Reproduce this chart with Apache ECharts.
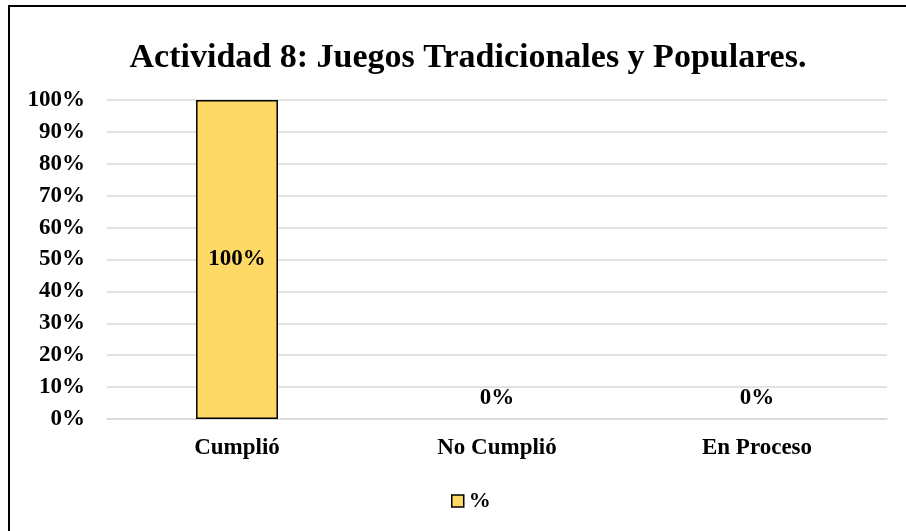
<!DOCTYPE html>
<html>
<head>
<meta charset="utf-8">
<script src="https://cdn.jsdelivr.net/npm/echarts@6/dist/echarts.min.js"></script>
<style>
    html, body { margin: 0; padding: 0; background: #fff; }
    #chartmain { width: 906px; height: 531px; }
</style>
</head>
<body>
<div id="chartmain"></div>
<script>
var categories = ['Cumplió', 'No Cumplió', 'En Proceso'];
var percentValues = [100, 0, 0];
var yTicks = [0, 10, 20, 30, 40, 50, 60, 70, 80, 90, 100];

var fontFam = '"Liberation Serif", "Times New Roman", serif';

var barData = [];
for (var i = 0; i < percentValues.length; i++) {
    var item = { value: percentValues[i] };
    if (percentValues[i] > 0) {
        item.label = { position: 'inside' };
    } else {
        // Excel puts the zero labels a bit above the axis, no outline drawn
        item.label = { position: 'top', distance: 9 };
        item.itemStyle = { borderWidth: 0 };
    }
    barData.push(item);
}

var option = {
    animation: false,
    backgroundColor: '#fff',
    title: {
        text: 'Actividad 8: Juegos Tradicionales y Populares.',
        left: 463,
        textAlign: 'center',
        top: 36,
        textStyle: {
            fontFamily: fontFam,
            fontWeight: 'bold',
            fontSize: 34,
            color: '#000'
        }
    },
    graphic: [
        {
            type: 'rect',
            shape: { x: 9, y: 6, width: 1200, height: 1200 },
            style: { fill: 'none', stroke: '#000', lineWidth: 2 },
            silent: true
        }
    ],
    legend: {
        data: [{ name: '%', icon: 'rect' }],
        left: 446,
        top: 485,
        itemWidth: 12,
        itemHeight: 12,
        itemGap: 4,
        itemStyle: { borderColor: '#000', borderWidth: 1.5 },
        textStyle: {
            fontFamily: fontFam,
            fontWeight: 'bold',
            fontSize: 22,
            color: '#000'
        }
    },
    grid: {
        left: 107,
        right: 19,
        top: 100,
        bottom: 112
    },
    xAxis: {
        type: 'category',
        data: categories,
        axisLine: { show: true, lineStyle: { color: '#D9D9D9', width: 1.5 } },
        axisTick: { show: false },
        axisLabel: {
            margin: 18,
            fontFamily: fontFam,
            fontWeight: 'bold',
            fontSize: 23,
            color: '#000'
        }
    },
    yAxis: {
        type: 'value',
        min: yTicks[0],
        max: yTicks[yTicks.length - 1],
        interval: 10,
        axisLine: { show: false },
        axisTick: { show: false },
        axisLabel: {
            margin: 22,
            formatter: '{value}%',
            fontFamily: fontFam,
            fontWeight: 'bold',
            fontSize: 23,
            color: '#000'
        },
        splitLine: { lineStyle: { color: '#D9D9D9', width: 1.5 } }
    },
    series: [
        {
            name: '%',
            type: 'bar',
            data: barData,
            barWidth: '31.5%',
            itemStyle: {
                color: '#FFD966',
                borderColor: '#000',
                borderWidth: 1.5
            },
            label: {
                show: true,
                formatter: '{c}%',
                fontFamily: fontFam,
                fontWeight: 'bold',
                fontSize: 23,
                color: '#000'
            }
        }
    ]
};

var myChart = echarts.init(document.getElementById('chartmain'));
myChart.setOption(option);
</script>
</body>
</html>
